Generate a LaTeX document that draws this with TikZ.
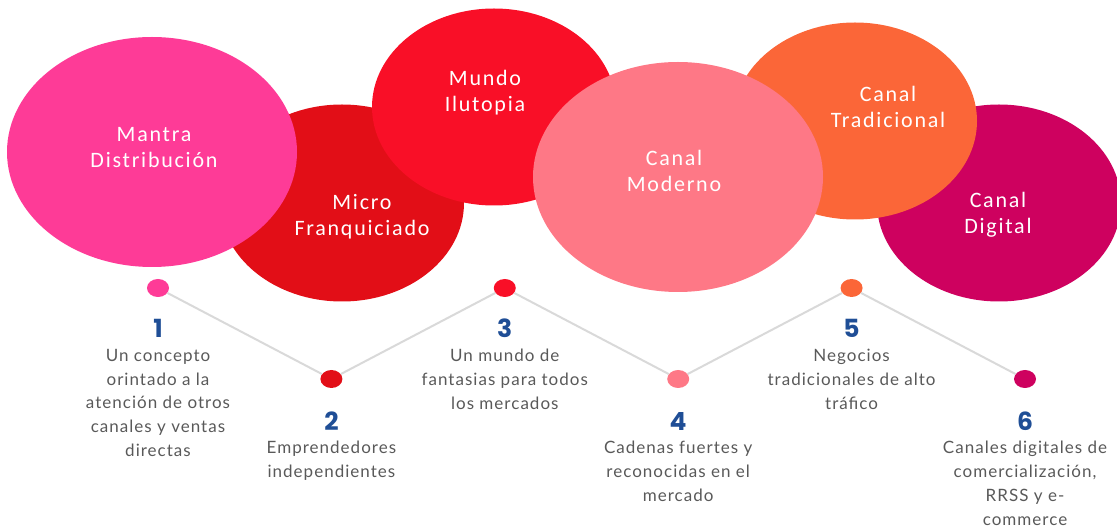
\documentclass[tikz,border=0pt]{standalone}
\usepackage{fontspec}
\setmainfont{Lato}[LetterSpace=6]
\newfontfamily\blobfont{Carlito}[LetterSpace=8]
\newfontfamily\numfont{Poppins}
\usetikzlibrary{shapes.geometric,positioning}

\definecolor{cMantra}{HTML}{FE3B97}
\definecolor{cMicro}{HTML}{E20E17}
\definecolor{cMundo}{HTML}{F90F27}
\definecolor{cModerno}{HTML}{FE7886}
\definecolor{cTrad}{HTML}{FB6638}
\definecolor{cDigital}{HTML}{CE015F}
\definecolor{numblue}{HTML}{1F4E96}
\definecolor{descgray}{HTML}{595959}
\definecolor{lineg}{HTML}{D9D9D9}

\tikzset{
  blob/.style={ellipse, inner sep=0pt, draw=none},
  smallblob/.style={blob, minimum width=244pt, minimum height=197pt},
  bigblob/.style={blob, minimum width=290pt, minimum height=230pt},
  blobtext/.style={text=white, font=\blobfont\fontsize{22}{26}\selectfont, align=center},
  dot/.style={ellipse, minimum width=22pt, minimum height=18pt, inner sep=0pt},
  num/.style={text=numblue, font=\numfont\bfseries\fontsize{25}{25}\selectfont, inner sep=0pt},
  desc/.style={text=descgray, font=\fontsize{17}{23.8}\selectfont, align=center, anchor=north, inner sep=0pt},
  zigzag/.style={draw=lineg, line width=2pt}
}

\begin{document}
\begin{tikzpicture}[x=1pt,y=-1pt]

  \newcommand\StepX{173.4}
  \useasboundingbox (0,0) rectangle (1117,529);

  %% the six channels
  \node[smallblob, fill=cMicro] (micro) at (342,203) {};
  \node[bigblob, fill=cMantra] (mantra) at (152,152) {};
  \node[smallblob, fill=cMundo] (mundo) at (494,107) {};
  \node[smallblob, fill=cDigital] (digital) at (999,203) {};
  \node[smallblob, fill=cTrad] (trad) at (855,121) {};
  \node[bigblob, fill=cModerno] (moderno) at (678,177) {};

  \node[blobtext] (tMantra) at (154,148) {Mantra\\Distribución};
  \node[blobtext] (tMicro) at (362,217) {Micro\\Franquiciado};
  \node[blobtext] (tMundo) at (485,93) {Mundo\\Ilutopia};
  \node[blobtext] (tModerno) at (674,171) {Canal\\Moderno};
  \node[blobtext] (tTrad) at (888,107) {Canal\\Tradicional};
  \node[blobtext] (tDigital) at (998,215) {Canal\\Digital};

  %% timeline dots
  \node[dot, fill=cMantra] (d1) at (158+0*\StepX, 288) {};
  \node[dot, fill=cMicro] (d2) at (158+1*\StepX, 379) {};
  \node[dot, fill=cMundo] (d3) at (158+2*\StepX, 288) {};
  \node[dot, fill=cModerno] (d4) at (158+3*\StepX, 379) {};
  \node[dot, fill=cTrad] (d5) at (158+4*\StepX, 288) {};
  \node[dot, fill=cDigital] (d6) at (158+5*\StepX, 379) {};

  \draw[zigzag] (d1) -- (d2); % 1-2
  \draw[zigzag] (d2) -- (d3); % 2-3
  \draw[zigzag] (d3) -- (d4); % 3-4
  \draw[zigzag] (d4) -- (d5); % 4-5
  \draw[zigzag] (d5) -- (d6); % 5-6

  %% numbers
  \node[num] (n1) at (158+0*\StepX, 328) {1};
  \node[num] (n2) at (158+1*\StepX, 421) {2};
  \node[num] (n3) at (158+2*\StepX, 328) {3};
  \node[num] (n4) at (158+3*\StepX, 421) {4};
  \node[num] (n5) at (158+4*\StepX, 328) {5};
  \node[num] (n6) at (158+5*\StepX, 421) {6};

  %% descriptions
  \node[desc] (s1) at (158+0*\StepX, 349) {Un concepto\\orintado a la\\atención de otros\\canales y ventas\\directas};
  \node[desc] (s2) at (158+1*\StepX, 441) {Emprendedores\\independientes};
  \node[desc] (s3) at (158+2*\StepX, 349) {Un mundo de\\fantasias para todos\\los mercados};
  \node[desc] (s4) at (158+3*\StepX, 441) {Cadenas fuertes y\\reconocidas en el\\mercado};
  \node[desc] (s5) at (158+4*\StepX, 349) {Negocios\\tradicionales de alto\\tráfico};
  \node[desc] (s6) at (158+5*\StepX, 441) {Canales digitales de\\comercialización,\\RRSS y e-\\commerce};

\end{tikzpicture}
\end{document}
